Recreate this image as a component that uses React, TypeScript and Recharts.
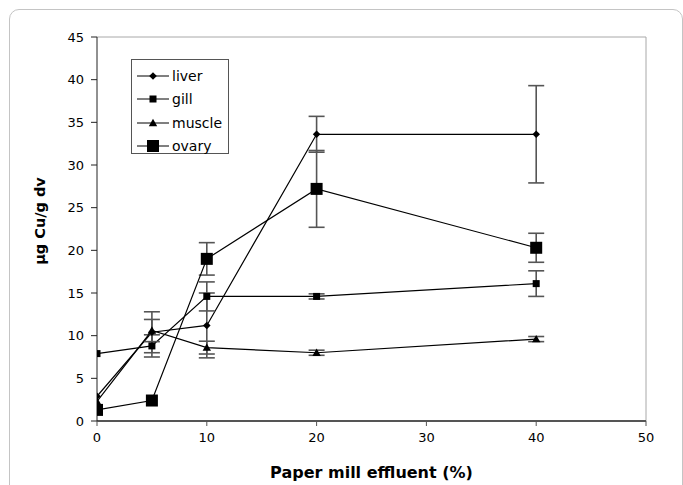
import React from "react";
import { LineChart, Line, XAxis, YAxis, ErrorBar, ReferenceLine } from "recharts";

const effluent = [0, 5, 10, 20, 40];

const liver = [2.9, 10.4, 11.2, 33.6, 33.6];
const liverErr = [null, 2.4, 3.8, 2.1, 5.7];
const gill = [7.9, 8.8, 14.6, 14.6, 16.1];
const gillErr = [null, 1.3, 1.7, 0.3, 1.5];
const muscle = [2.3, 10.6, 8.6, 8.0, 9.6];
const muscleErr = [null, 1.3, 0.75, 0.3, 0.3];
const ovary = [1.3, 2.4, 19.0, 27.2, 20.3];
const ovaryErr = [null, null, 1.9, 4.5, 1.7];

const xTicks = [0, 10, 20, 30, 40, 50];
const yTicks = [0, 5, 10, 15, 20, 25, 30, 35, 40, 45];

type Shape = "diamond" | "square" | "triangle" | "bigSquare";

const series: { name: string; shape: Shape; values: number[]; errors: (number | null)[] }[] = [
  { name: "liver", shape: "diamond", values: liver, errors: liverErr },
  { name: "gill", shape: "square", values: gill, errors: gillErr },
  { name: "muscle", shape: "triangle", values: muscle, errors: muscleErr },
  { name: "ovary", shape: "bigSquare", values: ovary, errors: ovaryErr },
];

const FONT = '"DejaVu Sans", "Liberation Sans", Arial, sans-serif';

function Marker({ shape, cx, cy }: { shape: Shape; cx: number; cy: number }) {
  if (shape === "diamond") {
    const r = 3.8;
    return (
      <polygon
        points={`${cx},${cy - r} ${cx + r},${cy} ${cx},${cy + r} ${cx - r},${cy}`}
        fill="#000"
      />
    );
  }
  if (shape === "square") {
    return <rect x={cx - 3.5} y={cy - 3.5} width={7} height={7} fill="#000" />;
  }
  if (shape === "triangle") {
    return (
      <polygon
        points={`${cx},${cy - 4.2} ${cx + 4.2},${cy + 3.2} ${cx - 4.2},${cy + 3.2}`}
        fill="#000"
      />
    );
  }
  return <rect x={cx - 6} y={cy - 6} width={12} height={12} fill="#000" />;
}

function ChartLegend() {
  return (
    <div
      style={{
        position: "absolute",
        left: 131,
        top: 59,
        width: 98,
        height: 95,
        border: "1px solid #555",
        background: "#fff",
        fontFamily: FONT,
        fontSize: 14,
        color: "#000",
        boxSizing: "border-box",
        paddingTop: 4,
      }}
    >
      {series.map((s) => (
        <div key={s.name} style={{ display: "flex", alignItems: "center", height: 23.5 }}>
          <svg width={38} height={16} style={{ marginLeft: 5 }}>
            <line x1={0} y1={8} x2={32} y2={8} stroke="#000" strokeWidth={1} />
            <Marker shape={s.shape} cx={16} cy={8} />
          </svg>
          <span style={{ marginLeft: -3, lineHeight: "16px" }}>{s.name}</span>
        </div>
      ))}
    </div>
  );
}

export default function App() {
  const lines = series.map((s) => ({
    ...s,
    data: effluent.map((x, i) => ({
      x,
      y: s.values[i],
      err: s.errors[i] === null ? undefined : s.errors[i],
    })),
  }));

  return (
    <div
      style={{
        position: "absolute",
        left: 0,
        top: 0,
        width: 683,
        height: 485,
        overflow: "hidden",
        background: "#fff",
      }}
    >
      <div
        style={{
          position: "absolute",
          left: 9,
          top: 9,
          width: 672,
          height: 520,
          border: "1px solid #c4c4c4",
          borderRadius: 10,
        }}
      />
      <div style={{ position: "absolute", left: 0, top: 0 }}>
        <LineChart
          width={683}
          height={485}
          margin={{ top: 37, right: 37, left: 0, bottom: 34 }}
          style={{ fontFamily: FONT }}
        >
          <XAxis
            type="number"
            dataKey="x"
            domain={[0, 50]}
            ticks={xTicks}
            allowDataOverflow
            height={30}
            tickSize={5}
            tickMargin={7}
            axisLine={{ stroke: "#555", strokeWidth: 2 }}
            tickLine={{ stroke: "#555" }}
            tick={{ fill: "#000", fontSize: 13, fontFamily: FONT }}
            label={{
              value: "Paper mill effluent (%)",
              position: "bottom",
              offset: 16,
              style: { fontWeight: "bold", fontSize: 16, fill: "#000", fontFamily: FONT },
            }}
          />
          <YAxis
            type="number"
            domain={[0, 45]}
            ticks={yTicks}
            allowDataOverflow
            width={97}
            tickSize={6}
            tickMargin={7}
            axisLine={{ stroke: "#222" }}
            tickLine={{ stroke: "#222" }}
            tick={{ fill: "#000", fontSize: 13, fontFamily: FONT }}
            label={{
              content: (props: any) => {
                const vb = props.viewBox || { x: 0, y: 37, width: 97, height: 384 };
                const cx = vb.x + 40;
                const cy = vb.y + vb.height / 2 - 8;
                return (
                  <text
                    x={cx}
                    y={cy}
                    dy="0.35em"
                    transform={`rotate(-90 ${cx} ${cy})`}
                    textAnchor="middle"
                    fontWeight="bold"
                    fontSize={14.5}
                    fill="#000"
                    fontFamily={FONT}
                  >
                    µg Cu/g dv
                  </text>
                );
              },
            }}
          />
          <ReferenceLine y={45} stroke="#a8a8a8" strokeWidth={1} />
          <ReferenceLine x={50} stroke="#a8a8a8" strokeWidth={1} />
          {lines.map((s) => (
            <Line
              key={s.name}
              data={s.data}
              dataKey="y"
              name={s.name}
              stroke="#000"
              strokeWidth={1.2}
              isAnimationActive={false}
              activeDot={false}
              dot={(p: any) => (
                <Marker key={`${s.name}-${p.index}`} shape={s.shape} cx={p.cx} cy={p.cy} />
              )}
            >
              <ErrorBar dataKey="err" direction="y" width={8} stroke="#555" strokeWidth={1.6} />
            </Line>
          ))}
        </LineChart>
      </div>
      <ChartLegend />
    </div>
  );
}
